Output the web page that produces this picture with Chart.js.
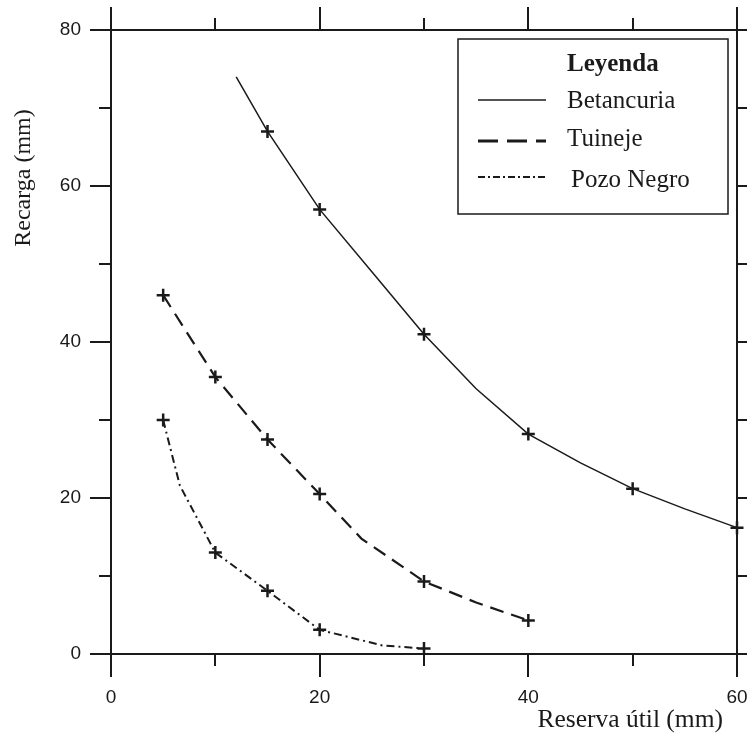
<!DOCTYPE html>
<html>
<head>
<meta charset="utf-8">
<script src="https://cdn.jsdelivr.net/npm/chart.js@4.4.0/dist/chart.umd.min.js"></script>
<style>
  html, body { margin: 0; padding: 0; background: #fff; }
  canvas { display: block; }
</style>
</head>
<body>
<canvas id="grafico" width="747" height="740"></canvas>
<script>
// ---- Datos ----
const seriesNames = ["Betancuria", "Tuineje", "Pozo Negro"];

const betancuriaX = [12, 15, 20, 25, 30, 35, 40, 45, 50, 55, 60];
const betancuriaY = [74, 67, 57, 49, 41, 34, 28.2, 24.5, 21.2, 18.6, 16.2];
const betancuriaMarks = [15, 20, 30, 40, 50, 60];

const tuinejeX = [5, 10, 15, 20, 24, 30, 35, 40];
const tuinejeY = [46, 35.5, 27.5, 20.5, 14.8, 9.3, 6.6, 4.3];
const tuinejeMarks = [5, 10, 15, 20, 30, 40];

const pozoX = [5, 6.6, 10, 15, 20, 26, 30];
const pozoY = [30, 21.6, 13, 8.1, 3.1, 1.1, 0.7];
const pozoMarks = [5, 10, 15, 20, 30];

const xTicks = [0, 10, 20, 30, 40, 50, 60];
const yTicks = [0, 10, 20, 30, 40, 50, 60, 70, 80];
const xTitle = "Reserva útil (mm)";
const yTitle = "Recarga (mm)";
const legendTitle = "Leyenda";

// ---- Estilos ----
const INK = "#1a1a1a";
const SERIF = "'Liberation Serif', 'Times New Roman', serif";
const SANS = "'Liberation Sans', Arial, sans-serif";
const dashes = [[], [14, 8], [8, 4, 2, 4]];
const widths = [1.5, 2.2, 2];
const legendDashes = [[], [20, 9], [7, 3, 2, 3]];
const legendWidths = [1.5, 3, 2];

function toPoints(xs, ys) {
  return xs.map((x, i) => ({ x, y: ys[i] }));
}

function serie(i, xs, ys, marks) {
  return {
    label: seriesNames[i],
    data: toPoints(xs, ys),
    showLine: true,
    borderColor: INK,
    backgroundColor: INK,
    borderWidth: widths[i],
    borderDash: dashes[i],
    tension: 0,
    pointStyle: "cross",
    pointRadius: (ctx) => (marks.includes(ctx.raw?.x) ? 6.5 : 0),
    pointBorderWidth: 2.5,
    pointBorderColor: INK,
    pointHoverRadius: 0,
    clip: false,
  };
}

// sin relleno automático para etiquetas en los extremos
function sinPadding(s) {
  s.paddingLeft = 0;
  s.paddingRight = 0;
  s.paddingTop = 0;
  s.paddingBottom = 0;
}

// ---- Marco, ticks, títulos y leyenda ----
const marco = {
  id: "marco",
  afterDraw(chart) {
    const { ctx, chartArea: a, scales } = chart;
    ctx.save();
    ctx.strokeStyle = INK;
    ctx.lineWidth = 2;
    ctx.setLineDash([]);
    ctx.strokeRect(a.left, a.top, a.right - a.left, a.bottom - a.top);

    ctx.beginPath();
    xTicks.forEach((v) => {
      const px = Math.round(scales.x.getPixelForValue(v));
      const len = v % 20 === 0 ? 23 : 12;
      ctx.moveTo(px, a.bottom);
      ctx.lineTo(px, a.bottom + len);
      ctx.moveTo(px, a.top);
      ctx.lineTo(px, a.top - len);
    });
    yTicks.forEach((v) => {
      const py = Math.round(scales.y.getPixelForValue(v));
      const len = v % 20 === 0 ? 21 : 12;
      ctx.moveTo(a.left, py);
      ctx.lineTo(a.left - len, py);
      ctx.moveTo(a.right, py);
      ctx.lineTo(a.right + len, py);
    });
    ctx.stroke();

    // títulos de ejes
    ctx.fillStyle = INK;
    ctx.textBaseline = "middle";
    ctx.textAlign = "right";
    ctx.font = "25.5px " + SERIF;
    ctx.fillText(xTitle, 723, 720);
    ctx.save();
    ctx.font = "24px " + SERIF;
    ctx.translate(24, 178);
    ctx.rotate(-Math.PI / 2);
    ctx.textAlign = "center";
    ctx.fillText(yTitle, 0, 0);
    ctx.restore();

    // leyenda
    const L = { x: 458, y: 39, w: 270, h: 175 };
    ctx.fillStyle = "#fff";
    ctx.fillRect(L.x, L.y, L.w, L.h);
    ctx.lineWidth = 1.5;
    ctx.strokeRect(L.x, L.y, L.w, L.h);
    ctx.fillStyle = INK;
    ctx.textAlign = "left";
    ctx.textBaseline = "alphabetic";
    ctx.font = "bold 25px " + SERIF;
    ctx.fillText(legendTitle, 567, 71);
    ctx.font = "25px " + SERIF;
    const rows = [
      { y: 100, ty: 108, tx: 567 },
      { y: 141, ty: 146, tx: 567 },
      { y: 177, ty: 187, tx: 571 },
    ];
    rows.forEach((r, i) => {
      ctx.beginPath();
      ctx.lineWidth = legendWidths[i];
      ctx.setLineDash(legendDashes[i]);
      ctx.moveTo(478, r.y);
      ctx.lineTo(546, r.y);
      ctx.stroke();
      ctx.setLineDash([]);
      ctx.fillText(seriesNames[i], r.tx, r.ty);
    });
    ctx.restore();
  },
};

new Chart(document.getElementById("grafico"), {
  type: "scatter",
  data: {
    datasets: [
      serie(0, betancuriaX, betancuriaY, betancuriaMarks),
      serie(1, tuinejeX, tuinejeY, tuinejeMarks),
      serie(2, pozoX, pozoY, pozoMarks),
    ],
  },
  options: {
    responsive: false,
    animation: false,
    devicePixelRatio: 1,
    layout: { padding: { top: 30, right: 10, left: 0, bottom: 0 } },
    plugins: { legend: { display: false }, tooltip: { enabled: false } },
    scales: {
      x: {
        type: "linear",
        min: 0,
        max: 60,
        afterFit: (s) => { s.height = 86; sinPadding(s); },
        afterBuildTicks: (s) => { s.ticks = xTicks.map((v) => ({ value: v })); },
        border: { display: false },
        grid: { drawOnChartArea: false, drawTicks: false },
        ticks: {
          color: INK,
          font: { family: SANS, size: 19 },
          padding: 32,
          maxRotation: 0,
          autoSkip: false,
          callback: (v) => (v % 20 === 0 ? v : ""),
        },
      },
      y: {
        type: "linear",
        min: 0,
        max: 80,
        afterFit: (s) => { s.width = 111; sinPadding(s); },
        afterBuildTicks: (s) => { s.ticks = yTicks.map((v) => ({ value: v })); },
        border: { display: false },
        grid: { drawOnChartArea: false, drawTicks: false },
        ticks: {
          color: INK,
          font: { family: SANS, size: 19 },
          padding: 30,
          autoSkip: false,
          callback: (v) => (v % 20 === 0 ? v : ""),
        },
      },
    },
  },
  plugins: [marco],
});
</script>
</body>
</html>
